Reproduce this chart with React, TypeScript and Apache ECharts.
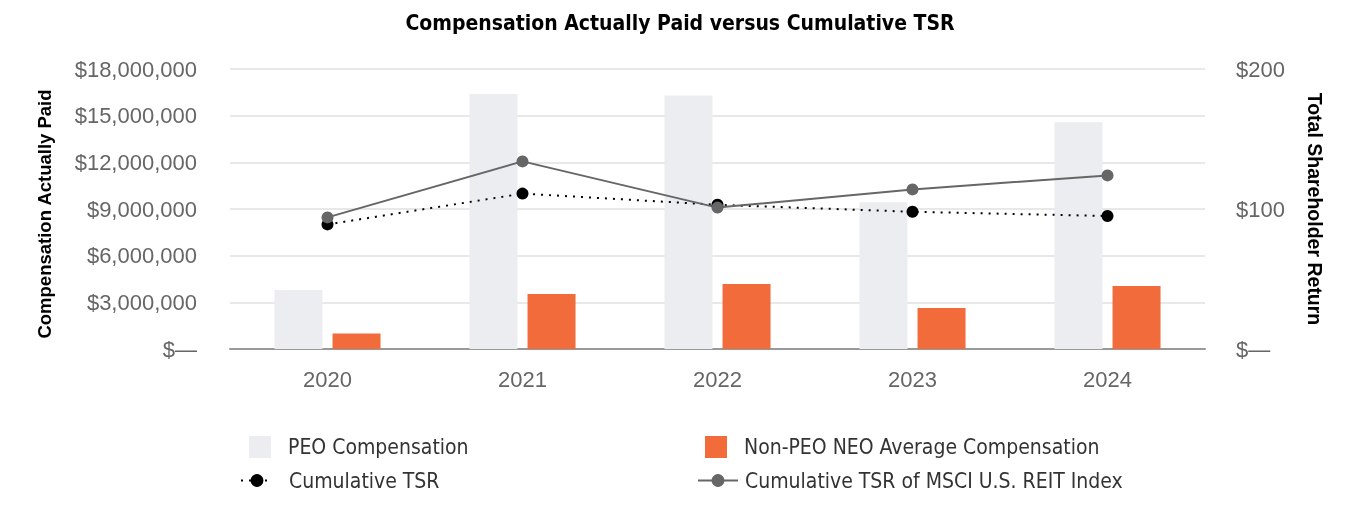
import React, { useEffect, useRef } from "react";
import * as echarts from "echarts";

const years = ["2020", "2021", "2022", "2023", "2024"];
const peoComp = [3800000, 16400000, 16300000, 9430000, 14580000];
const neoComp = [990000, 3540000, 4180000, 2630000, 4050000];
const cumTSR = [89, 111, 103, 98, 95];
const reitTSR = [94, 134, 101, 114, 124];

const leftTicks = { min: 0, max: 18000000, interval: 3000000 };
const rightTicks = { min: 0, max: 200, interval: 100 };

const NARROW = '"Liberation Sans Narrow", "DejaVu Sans Condensed", "Liberation Sans", sans-serif';
const SANS = '"Liberation Sans", Arial, sans-serif';

export default function App() {
  const ref = useRef<HTMLDivElement>(null);
  useEffect(() => {
    if (!ref.current) return;
    const chart = echarts.init(ref.current, undefined, { renderer: "svg" });
    const legendText = { fontFamily: NARROW, fontSize: 21, color: "#333", padding: [0, 0, 0, 12] };
    chart.setOption({
      animation: false,
      title: {
        text: "Compensation Actually Paid versus Cumulative TSR",
        left: "center",
        top: 7,
        textStyle: { fontFamily: NARROW, fontWeight: "bold", fontSize: 21, color: "#000" },
      },
      grid: { left: 230, right: 155, top: 69, bottom: 171 },
      legend: [
        {
          left: 249, top: 436, padding: 0, itemWidth: 22, itemHeight: 22,
          data: [{ name: "PEO Compensation", icon: "rect" }], textStyle: legendText,
        },
        {
          left: 705, top: 436, padding: 0, itemWidth: 22, itemHeight: 22,
          data: [{ name: "Non-PEO NEO Average Compensation", icon: "rect" }], textStyle: legendText,
        },
        {
          left: 240, top: 470, padding: 0, itemWidth: 32, itemHeight: 16,
          data: ["Cumulative TSR"], textStyle: { ...legendText, padding: [0, 0, 0, 11] },
        },
        {
          left: 697, top: 470, padding: 0, itemWidth: 40, itemHeight: 16,
          data: ["Cumulative TSR of MSCI U.S. REIT Index"], textStyle: { ...legendText, padding: [0, 0, 0, 2] },
        },
      ],
      xAxis: {
        type: "category",
        data: years,
        axisTick: { show: false },
        axisLine: { lineStyle: { color: "#999", width: 2 } },
        axisLabel: { fontFamily: SANS, fontSize: 22, color: "#666", margin: 19 },
      },
      yAxis: [
        {
          type: "value",
          ...leftTicks,
          name: "Compensation Actually Paid",
          nameLocation: "middle",
          nameGap: 176,
          nameTextStyle: { fontFamily: SANS, fontWeight: "bold", fontSize: 18.5, color: "#000", padding: [0, 10, 0, 0] },
          axisLine: { show: false },
          axisTick: { show: false },
          splitLine: { lineStyle: { color: "#e8e8e8", width: 2 } },
          axisLabel: {
            fontFamily: SANS, fontSize: 22, color: "#666", margin: 33,
            formatter: (v: number) => (v === 0 ? "$\u2014" : "$" + v.toLocaleString("en-US")),
          },
        },
        {
          type: "value",
          ...rightTicks,
          name: "Total Shareholder Return",
          nameLocation: "middle",
          nameGap: 100,
          nameRotate: -90,
          nameTextStyle: { fontFamily: SANS, fontWeight: "bold", fontSize: 19.5, color: "#000" },
          axisLine: { show: false },
          axisTick: { show: false },
          splitLine: { show: false },
          axisLabel: {
            fontFamily: SANS, fontSize: 22, color: "#666", margin: 31,
            formatter: (v: number) => (v === 0 ? "$\u2014" : "$" + v),
          },
        },
      ],
      series: [
        {
          name: "PEO Compensation",
          type: "bar",
          data: peoComp,
          barWidth: 48,
          barGap: "21%",
          itemStyle: { color: "#ECEDF1" },
        },
        {
          name: "Non-PEO NEO Average Compensation",
          type: "bar",
          data: neoComp,
          barWidth: 48,
          itemStyle: { color: "#F26B3A" },
        },
        {
          name: "Cumulative TSR",
          type: "line",
          yAxisIndex: 1,
          data: cumTSR,
          symbol: "circle",
          symbolSize: 12,
          itemStyle: { color: "#000" },
          lineStyle: { color: "#000", width: 2, type: [2, 6] },
        },
        {
          name: "Cumulative TSR of MSCI U.S. REIT Index",
          type: "line",
          yAxisIndex: 1,
          data: reitTSR,
          symbol: "circle",
          symbolSize: 12,
          itemStyle: { color: "#666" },
          lineStyle: { color: "#666", width: 2 },
        },
      ],
    });
    return () => chart.dispose();
  }, []);
  return <div ref={ref} style={{ position: "fixed", left: 0, top: 0, width: 1360, height: 520 }} />;
}
